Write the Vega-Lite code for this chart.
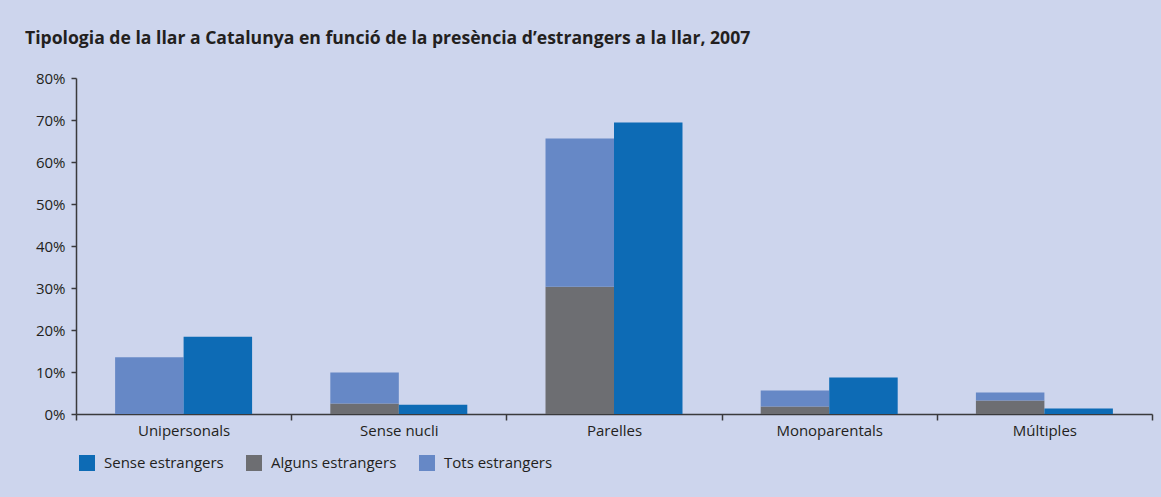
{
  "$schema": "https://vega.github.io/schema/vega-lite/v6.json",
  "width": 1076,
  "height": 336,
  "autosize": {"type": "none"},
  "padding": {"left": 76, "top": 78, "right": 9, "bottom": 83},
  "background": "#cdd5ed",
  "title": {
    "text": "Tipologia de la llar a Catalunya en funció de la presència d’estrangers a la llar, 2007",
    "anchor": "start",
    "frame": "group",
    "dx": -51,
    "offset": 9,
    "baseline": "alphabetic",
    "font": "Open Sans",
    "fontSize": 17.6,
    "fontWeight": "bold",
    "color": "#231f20"
  },
  "data": {
    "values": [
      {"categoria": "Unipersonals", "serie": "Alguns estrangers", "grup": "A", "ordre": 1, "valor": 0},
      {"categoria": "Unipersonals", "serie": "Tots estrangers", "grup": "A", "ordre": 2, "valor": 13.5},
      {"categoria": "Unipersonals", "serie": "Sense estrangers", "grup": "B", "ordre": 1, "valor": 18.4},
      {"categoria": "Sense nucli", "serie": "Alguns estrangers", "grup": "A", "ordre": 1, "valor": 2.5},
      {"categoria": "Sense nucli", "serie": "Tots estrangers", "grup": "A", "ordre": 2, "valor": 7.4},
      {"categoria": "Sense nucli", "serie": "Sense estrangers", "grup": "B", "ordre": 1, "valor": 2.2},
      {"categoria": "Parelles", "serie": "Alguns estrangers", "grup": "A", "ordre": 1, "valor": 30.3},
      {"categoria": "Parelles", "serie": "Tots estrangers", "grup": "A", "ordre": 2, "valor": 35.3},
      {"categoria": "Parelles", "serie": "Sense estrangers", "grup": "B", "ordre": 1, "valor": 69.4},
      {"categoria": "Monoparentals", "serie": "Alguns estrangers", "grup": "A", "ordre": 1, "valor": 1.8},
      {"categoria": "Monoparentals", "serie": "Tots estrangers", "grup": "A", "ordre": 2, "valor": 3.8},
      {"categoria": "Monoparentals", "serie": "Sense estrangers", "grup": "B", "ordre": 1, "valor": 8.7},
      {"categoria": "Múltiples", "serie": "Alguns estrangers", "grup": "A", "ordre": 1, "valor": 3.2},
      {"categoria": "Múltiples", "serie": "Tots estrangers", "grup": "A", "ordre": 2, "valor": 1.9},
      {"categoria": "Múltiples", "serie": "Sense estrangers", "grup": "B", "ordre": 1, "valor": 1.3}
    ]
  },
  "transform": [
    {"stack": "valor", "groupby": ["categoria", "grup"], "sort": [{"field": "ordre", "order": "ascending"}], "as": ["v0", "v1"]}
  ],
  "mark": {"type": "bar", "stroke": null},
  "encoding": {
    "x": {
      "field": "categoria",
      "type": "nominal",
      "sort": ["Unipersonals", "Sense nucli", "Parelles", "Monoparentals", "Múltiples"],
      "scale": {"paddingInner": 0, "paddingOuter": 0},
      "axis": {
        "title": null,
        "labelAngle": 0,
        "tickBand": "extent",
        "tickSize": 6,
        "tickWidth": 1.5,
        "tickColor": "#3a3a3c",
        "domainColor": "#3a3a3c",
        "domainWidth": 1.5,
        "labelPadding": 3,
        "labelFont": "Open Sans",
        "labelFontSize": 15,
        "labelColor": "#231f20"
      }
    },
    "xOffset": {
      "field": "grup",
      "type": "nominal",
      "sort": ["A", "B"],
      "scale": {"paddingOuter": 0.571, "paddingInner": 0}
    },
    "y": {
      "field": "v1",
      "type": "quantitative",
      "scale": {"domain": [0, 80]},
      "axis": {
        "title": null,
        "values": [0, 10, 20, 30, 40, 50, 60, 70, 80],
        "labelExpr": "datum.value + '%'",
        "grid": false,
        "tickSize": 5,
        "tickWidth": 1.5,
        "tickColor": "#3a3a3c",
        "domainColor": "#3a3a3c",
        "domainWidth": 1.5,
        "labelPadding": 6,
        "labelFont": "Open Sans",
        "labelFontSize": 15,
        "labelColor": "#231f20"
      }
    },
    "y2": {"field": "v0"},
    "color": {
      "field": "serie",
      "type": "nominal",
      "scale": {
        "domain": ["Sense estrangers", "Alguns estrangers", "Tots estrangers"],
        "range": ["#0d6bb5", "#6d6e72", "#6688c6"]
      },
      "legend": {
        "title": null,
        "orient": "none",
        "direction": "horizontal",
        "legendX": 3,
        "legendY": 377,
        "symbolType": "square",
        "symbolSize": 256,
        "symbolStrokeWidth": 0,
        "labelFont": "Open Sans",
        "labelFontSize": 15,
        "labelColor": "#231f20",
        "labelOffset": 9,
        "columnPadding": 22
      }
    }
  },
  "config": {
    "view": {"stroke": null}
  }
}
